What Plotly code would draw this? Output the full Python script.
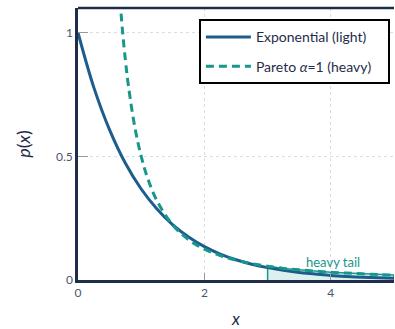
import plotly.graph_objects as go

# Exponential (light) curve values
exp_x = [0.0, 0.25, 0.5, 0.75, 1.0, 1.25, 1.5, 1.75, 2.0, 2.25, 2.5, 2.75, 3.0, 3.25, 3.5, 3.75, 4.0, 4.25, 4.5, 4.75, 5.0]
exp_y = [1.0, 0.779, 0.607, 0.472, 0.368, 0.287, 0.223, 0.174, 0.135, 0.105, 0.082, 0.064, 0.050, 0.039, 0.030, 0.024, 0.018, 0.014, 0.011, 0.009, 0.007]

# Pareto alpha=1 (heavy) curve values
par_x = [0.65, 0.7, 0.75, 0.8, 0.9, 1.0, 1.1, 1.25, 1.5, 1.75, 2.0, 2.25, 2.5, 2.75, 3.0, 3.25, 3.5, 3.75, 4.0, 4.25, 4.5, 4.75, 5.0]
par_y = [1.183, 1.020, 0.889, 0.781, 0.617, 0.500, 0.413, 0.320, 0.222, 0.163, 0.125, 0.099, 0.080, 0.066, 0.056, 0.047, 0.041, 0.036, 0.031, 0.028, 0.025, 0.022, 0.020]

# Tail region (x >= 3)
tail_x = [3.0, 3.25, 3.5, 3.75, 4.0, 4.25, 4.5, 4.75, 5.0]
tail_y = [0.056, 0.047, 0.041, 0.036, 0.031, 0.028, 0.025, 0.022, 0.020]

x_ticks = [0, 2, 4]
y_ticks = [0, 0.5, 1]
y_tick_text = ["0", "0.5", "1"]

NAVY = "#1f2d4a"
BLUE = "#1d5c8c"
TEAL = "#16978a"

fig = go.Figure()

# Shaded tail
fig.add_trace(go.Scatter(
    x=[tail_x[0]] + tail_x + [tail_x[-1]],
    y=[0] + tail_y + [0],
    fill="toself", fillcolor="rgba(22,151,138,0.15)",
    line=dict(color=TEAL, width=1.5), mode="lines",
    showlegend=False, hoverinfo="skip"))

fig.add_trace(go.Scatter(
    x=exp_x, y=exp_y, mode="lines", name="Exponential (light)\u00a0\u00a0\u00a0",
    legendgroup="a",
    line=dict(color=BLUE, width=3, shape="spline")))

fig.add_trace(go.Scatter(
    x=par_x, y=par_y, mode="lines", name="Pareto <i>α</i>=1 (heavy)\u00a0\u00a0\u00a0",
    legendgroup="b",
    line=dict(color=TEAL, width=3, dash="8px,5px", shape="spline")))

fig.add_annotation(x=4.03, y=0.034, text="heavy tail", showarrow=False,
                   font=dict(color=TEAL, size=13, family="Lato"),
                   xanchor="center", yanchor="bottom")

fig.update_layout(
    width=395, height=329,
    margin=dict(l=78, r=1, t=8, b=47),
    plot_bgcolor="white", paper_bgcolor="white",
    font=dict(family="Lato", color="#4a5670", size=12),
    legend=dict(x=0.987, y=0.958, xanchor="right", yanchor="top",
                bordercolor="black", borderwidth=2, bgcolor="white",
                font=dict(size=14, color=NAVY, family="Lato"),
                itemwidth=45,
                tracegroupgap=8, traceorder="grouped"),
    xaxis=dict(range=[0, 5], tickvals=x_ticks, ticks="inside", ticklen=7,
               tickcolor="#999999", showgrid=True, gridcolor="#dddddd",
               griddash="dot", showline=True, linecolor=NAVY, linewidth=2.5,
               mirror=False, zeroline=False,
               title=dict(text="<i>x</i>", font=dict(size=17, color=NAVY), standoff=16),
               tickfont=dict(size=12, color="#4a5670")),
    yaxis=dict(range=[0, 1.1], tickvals=y_ticks, ticktext=y_tick_text,
               ticks="inside", ticklen=10, tickcolor="#999999",
               showgrid=True, gridcolor="#dddddd", griddash="dot",
               showline=True, linecolor=NAVY, linewidth=2.5, zeroline=False,
               title=dict(text="<i>p</i>(<i>x</i>)", font=dict(size=18, color=NAVY), standoff=21),
               tickfont=dict(size=12, color="#4a5670")),
    shapes=[dict(type="line", xref="paper", yref="paper", x0=0, x1=1, y0=1, y1=1,
                 line=dict(color=NAVY, width=2.5))],
)

fig.write_html("out.html", config={"displayModeBar": False},
               post_script="document.body.style.margin='0';document.body.style.overflow='hidden';")
